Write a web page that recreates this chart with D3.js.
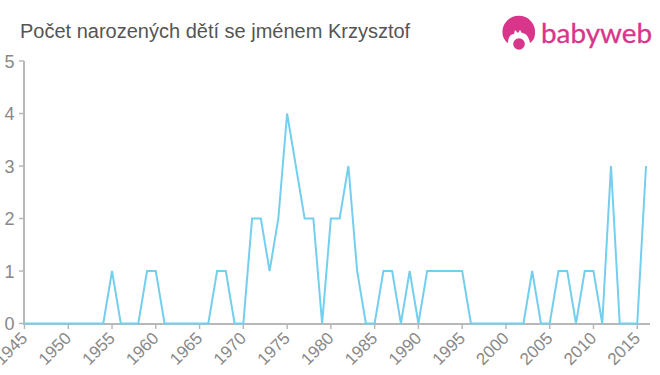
<!DOCTYPE html>
<html><head><meta charset="utf-8">
<script src="https://cdn.jsdelivr.net/npm/d3@7"></script>
<style>html,body{margin:0;padding:0;background:#fff;overflow:hidden}svg{display:block}</style></head>
<body><div id="c"></div>
<script>
const years = d3.range(1945, 2017);
const values = [0,0,0,0,0,0,0,0,0,0,
 1,0,0,0,1,1,0,0,0,0,
 0,0,1,1,0,0,2,2,1,2,
 4,3,2,2,0,2,2,3,1,0,
 0,1,1,0,1,0,1,1,1,1,
 1,0,0,0,0,0,0,0,1,0,
 0,1,1,0,1,1,0,3,0,0,
 0,3];
const xTicks = d3.range(1945, 2016, 5);
const yTicks = [0,1,2,3,4,5];
const title = "Počet narozených dětí se jménem Krzysztof";

const W=660,H=375;
const svg=d3.select("#c").append("svg").attr("width",W).attr("height",H);
const x=d3.scaleLinear().domain([1945,2016]).range([24.5,646]);
const y=d3.scaleLinear().domain([0,5]).range([323.5,61]);
const font="'Liberation Sans',Arial,sans-serif";

svg.append("text").attr("x",20).attr("y",37.5).attr("font-family",font).attr("font-size",20).attr("fill","#555").text(title);

const gy=svg.append("g");
gy.append("line").attr("x1",24).attr("x2",24).attr("y1",y(5)).attr("y2",y(0)).attr("stroke","#b8b8b8").attr("stroke-width",2);
gy.selectAll("line.t").data(yTicks).join("line").attr("class","t").attr("x1",19).attr("x2",24).attr("y1",d=>y(d)).attr("y2",d=>y(d)).attr("stroke","#b8b8b8").attr("stroke-width",1.5);
gy.selectAll("text").data(yTicks).join("text").attr("x",14.5).attr("y",d=>y(d)+6.5)
 .attr("text-anchor","end").attr("font-family",font).attr("font-size",18).attr("fill","#888").text(d=>d);

const gx=svg.append("g");
gx.append("line").attr("x1",23).attr("x2",650).attr("y1",324).attr("y2",324).attr("stroke","#b8b8b8").attr("stroke-width",2);
gx.selectAll("line.t").data(xTicks).join("line").attr("class","t").attr("x1",d=>x(d)).attr("x2",d=>x(d)).attr("y1",324).attr("y2",329).attr("stroke","#b8b8b8").attr("stroke-width",1.5);
gx.selectAll("text").data(xTicks).join("text")
 .attr("transform",d=>`translate(${x(d)-0.3},${335}) rotate(-45)`)
 .attr("text-anchor","end").attr("dy","0.35em").attr("font-family",font).attr("font-size",17).attr("fill","#888").text(d=>d);

const line=d3.line().x((d,i)=>x(years[i])).y(d=>y(d));
svg.append("path").attr("d",line(values)).attr("fill","none").attr("stroke","#74cfee").attr("stroke-width",2);

// logo
const logo=svg.append("g").attr("fill","#d9358a");
logo.append("path").attr("d","M502.5 33 A16.3 16 0 1 1 535 33 C535 38 533 41 530 43 C529 37 526 33 522 33 L520 30 L518 33 L515 30 L514 34 C510 34 508 38 508 43 C505 41 502.5 37 502.5 33 Z");
logo.append("circle").attr("cx",519).attr("cy",44).attr("r",5.8);
logo.append("text").attr("x",541).attr("y",43).attr("font-family","Lato,sans-serif").attr("font-size",26).attr("textLength",111).attr("lengthAdjust","spacingAndGlyphs").attr("fill","#d9358a").attr("stroke","#d9358a").attr("stroke-width",0.3).text("babyweb");
</script></body></html>
